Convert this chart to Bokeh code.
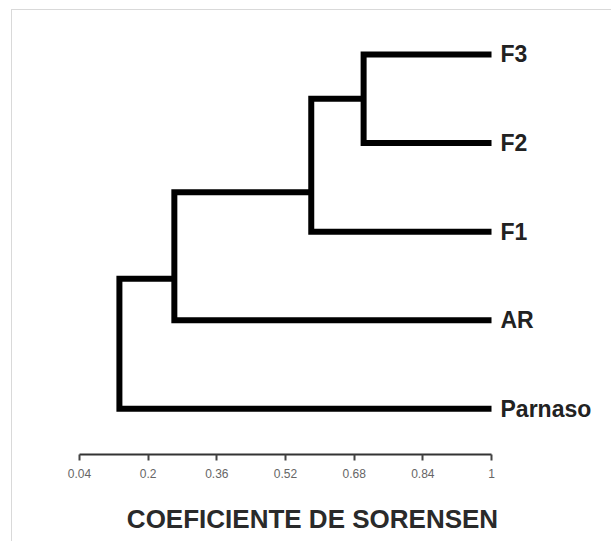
from bokeh.plotting import figure
from bokeh.models import Range1d, FixedTicker
from bokeh.core.properties import value
from bokeh.embed import file_html
from bokeh.resources import INLINE

# Leaves (top to bottom) and their positions
leaves = ["F3", "F2", "F1", "AR", "Parnaso"]
leaf_pos = [0, 1, 2, 3, 4]
leaf_sim = [1.0, 1.0, 1.0, 1.0, 1.0]

# Merges: child a, child b, Sorensen similarity of join, vertical position of node
merge_a = ["F3", "n1", "n2", "n3"]
merge_b = ["F2", "F1", "AR", "Parnaso"]
merge_name = ["n1", "n2", "n3", "root"]
merge_sim = [0.702, 0.58, 0.261, 0.133]
merge_pos = [0.5, 1.554, 2.532, 3.2]

tick_values = [0.04, 0.2, 0.36, 0.52, 0.68, 0.84, 1.0]
tick_labels = ["0.04", "0.2", "0.36", "0.52", "0.68", "0.84", "1"]

node_x = {n: s for n, s in zip(leaves, leaf_sim)}
node_y = {n: y for n, y in zip(leaves, leaf_pos)}
for n, s, y in zip(merge_name, merge_sim, merge_pos):
    node_x[n] = s
    node_y[n] = y

xs, ys = [], []
for a, b, s in zip(merge_a, merge_b, merge_sim):
    xs.append([node_x[a], s, s, node_x[b]])
    ys.append([node_y[a], node_y[a], node_y[b], node_y[b]])

p = figure(width=600, height=532, output_backend="svg", toolbar_location=None,
           x_range=Range1d(-0.1161, 1.2819), y_range=Range1d(4.516, -0.4966),
           min_border_left=0, min_border_right=0, min_border_top=0,
           min_border_bottom=88, y_axis_location=None)
p.xgrid.visible = False
p.ygrid.visible = False
p.outline_line_color = None
p.background_fill_color = "white"
p.border_fill_color = "white"

p.multi_line(xs=xs, ys=ys, line_color="black", line_width=6,
             line_join="miter", line_cap="butt")

p.text(x=leaf_sim, y=leaf_pos, text=leaves, x_offset=9,
       text_baseline="middle", text_align="left",
       text_font=value("Liberation Sans"), text_font_style="bold",
       text_font_size="23px", text_color="#222222")

ax = p.xaxis[0]
ax.bounds = (0.04, 1.0)
ax.ticker = FixedTicker(ticks=tick_values)
ax.major_label_overrides = {v: l for v, l in zip(tick_values, tick_labels)}
ax.minor_tick_line_color = None
ax.major_tick_in = 0
ax.major_tick_out = 6
ax.major_tick_line_width = 2
ax.major_tick_line_color = "#444444"
ax.axis_line_width = 2
ax.axis_line_color = "#333333"
ax.major_label_text_font = "Liberation Sans"
ax.major_label_text_font_size = "12px"
ax.major_label_text_color = "#666666"
ax.major_label_standoff = 8
ax.axis_label = "COEFICIENTE DE SORENSEN"
ax.axis_label_text_font = "Liberation Sans"
ax.axis_label_text_font_style = "bold"
ax.axis_label_text_font_size = "26px"
ax.axis_label_text_color = "#2a2a2a"
ax.axis_label_standoff = 23

p.styles = {"margin-left": "11px", "margin-top": "9px",
            "border-top": "1px solid #d9d9d9", "border-left": "1px solid #d9d9d9"}

open("out.html", "w").write(file_html(p, INLINE))
